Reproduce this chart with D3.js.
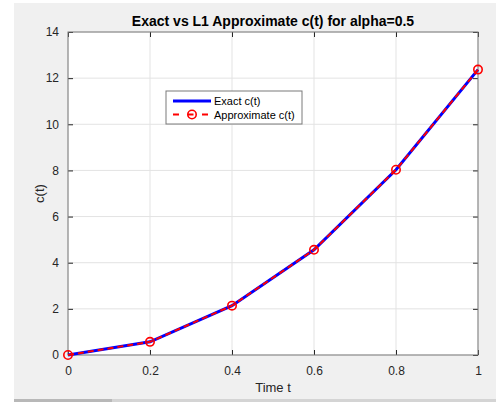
<!DOCTYPE html>
<html>
<head>
<meta charset="utf-8">
<script src="https://cdn.jsdelivr.net/npm/d3@7"></script>
<style>
  body { margin: 0; background: #fff; }
  svg { display: block; font-family: "Liberation Sans", Arial, sans-serif; }
</style>
</head>
<body>
<div id="chart"></div>
<script>
// data
const times = [0, 0.2, 0.4, 0.6, 0.8, 1];
const exact = [0, 0.57, 2.14, 4.56, 8.03, 12.37];
const approx = [0, 0.57, 2.14, 4.56, 8.03, 12.37];
const xTicks = [0, 0.2, 0.4, 0.6, 0.8, 1];
const yTicks = [0, 2, 4, 6, 8, 10, 12, 14];

const W = 496, H = 402;
const margin = {top: 32, right: 18, bottom: 47, left: 68};
const width = 478 - margin.left,
    height = 355 - margin.top;

const svg = d3.select("#chart")
    .append("svg")
    .attr("width", W)
    .attr("height", H);

// figure background
svg.append("rect")
    .attr("x", 14).attr("y", 3)
    .attr("width", W - 14).attr("height", 396)
    .attr("fill", "#f0f0f0");
svg.append("rect")
    .attr("x", 14).attr("y", 399)
    .attr("width", W - 14).attr("height", 3)
    .attr("fill", "#d4d4d4");
svg.append("rect")
    .attr("x", 14).attr("y", 399)
    .attr("width", 98).attr("height", 3)
    .attr("fill", "#b8b8b8");

const g = svg.append("g")
    .attr("transform", `translate(${margin.left},${margin.top})`);

const x = d3.scaleLinear().domain([0, 1]).range([0, width]);
const y = d3.scaleLinear().domain([0, 14]).range([height, 0]);

g.append("rect")
    .attr("width", width).attr("height", height)
    .attr("fill", "#fff");

// grid
g.append("g").selectAll("line")
    .data(xTicks)
    .join("line")
    .attr("x1", d => x(d)).attr("x2", d => x(d))
    .attr("y1", 0).attr("y2", height)
    .attr("stroke", "#e3e3e3");
g.append("g").selectAll("line")
    .data(yTicks)
    .join("line")
    .attr("x1", 0).attr("x2", width)
    .attr("y1", d => y(d)).attr("y2", d => y(d))
    .attr("stroke", "#e3e3e3");

// axes, ticks pointing inward
const axisColor = "#262626";
function styleAxis(sel) {
    sel.select(".domain").remove();
    sel.selectAll(".tick line").attr("stroke", axisColor);
    sel.selectAll(".tick text")
        .attr("fill", axisColor)
        .style("font-size", "12px")
        .style("font-family", "Liberation Sans, Arial, sans-serif");
}

g.append("g")
    .attr("transform", `translate(0,${height})`)
    .call(d3.axisBottom(x).tickValues(xTicks).tickFormat(d3.format("")).tickSizeInner(-5).tickPadding(11))
    .call(styleAxis);
g.append("g")
    .call(d3.axisTop(x).tickValues(xTicks).tickFormat("").tickSizeInner(-5))
    .call(styleAxis);
g.append("g")
    .call(d3.axisLeft(y).tickValues(yTicks).tickFormat(d3.format("")).tickSizeInner(-5).tickPadding(9))
    .call(styleAxis);
g.append("g")
    .attr("transform", `translate(${width},0)`)
    .call(d3.axisRight(y).tickValues(yTicks).tickFormat("").tickSizeInner(-5))
    .call(styleAxis);

g.append("rect")
    .attr("width", width).attr("height", height)
    .attr("fill", "none")
    .attr("stroke", "#7a7a7a")
    .attr("stroke-width", 1);

// series
const line = d3.line()
    .x((d, i) => x(times[i]))
    .y(d => y(d));

g.append("path")
    .datum(exact)
    .attr("d", line)
    .attr("fill", "none")
    .attr("stroke", "#0000ff")
    .attr("stroke-width", 3);

g.append("path")
    .datum(approx)
    .attr("d", line)
    .attr("fill", "none")
    .attr("stroke", "#ff0000")
    .attr("stroke-width", 2)
    .attr("stroke-dasharray", "6,4");

g.append("g").selectAll("circle")
    .data(approx)
    .join("circle")
    .attr("cx", (d, i) => x(times[i]))
    .attr("cy", d => y(d))
    .attr("r", 4.2)
    .attr("fill", "none")
    .attr("stroke", "#ff0000")
    .attr("stroke-width", 1.6);

// title and labels
svg.append("text")
    .attr("x", margin.left + width / 2)
    .attr("y", 25.5)
    .attr("text-anchor", "middle")
    .style("font-size", "14px")
    .style("font-weight", "bold")
    .attr("fill", "#000")
    .text("Exact vs L1 Approximate c(t) for alpha=0.5");

svg.append("text")
    .attr("x", margin.left + width / 2)
    .attr("y", 392)
    .attr("text-anchor", "middle")
    .style("font-size", "13px")
    .attr("fill", axisColor)
    .text("Time t");

svg.append("text")
    .attr("transform", `translate(44,${margin.top + height / 2}) rotate(-90)`)
    .attr("text-anchor", "middle")
    .style("font-size", "13px")
    .attr("fill", axisColor)
    .text("c(t)");

// legend
const legend = svg.append("g").attr("transform", "translate(166,91)");
legend.append("rect")
    .attr("width", 136).attr("height", 33)
    .attr("fill", "#fff")
    .attr("stroke", "#7a7a7a");
legend.append("line")
    .attr("x1", 7).attr("x2", 45).attr("y1", 10).attr("y2", 10)
    .attr("stroke", "#0000ff").attr("stroke-width", 3);
legend.append("line")
    .attr("x1", 7).attr("x2", 45).attr("y1", 23.5).attr("y2", 23.5)
    .attr("stroke", "#ff0000").attr("stroke-width", 2)
    .attr("stroke-dasharray", "6,8.5");
legend.append("circle")
    .attr("cx", 26).attr("cy", 23.5).attr("r", 4.2)
    .attr("fill", "none").attr("stroke", "#ff0000").attr("stroke-width", 1.6);
legend.append("text")
    .attr("x", 48).attr("y", 14)
    .style("font-size", "11px").attr("fill", "#000")
    .text("Exact c(t)");
legend.append("text")
    .attr("x", 48).attr("y", 27.5)
    .style("font-size", "11px").attr("fill", "#000")
    .text("Approximate c(t)");
</script>
</body>
</html>
